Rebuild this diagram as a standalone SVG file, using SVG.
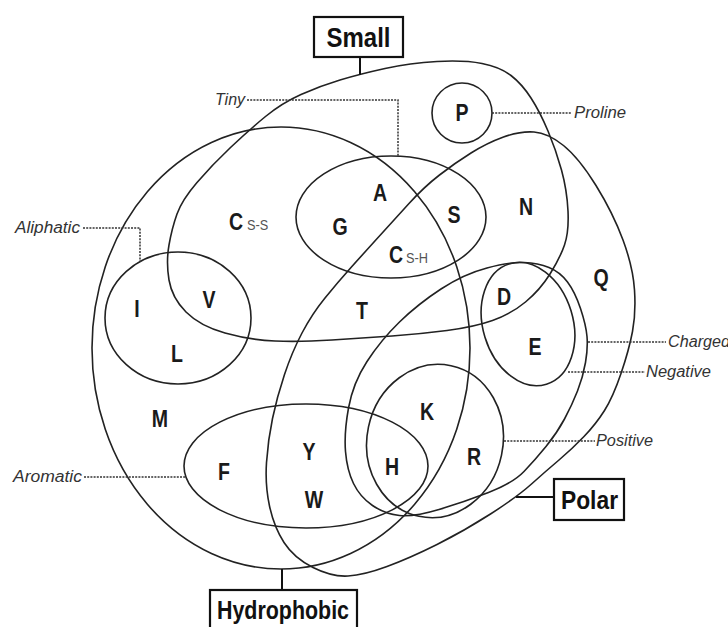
<svg xmlns="http://www.w3.org/2000/svg" width="728" height="627" viewBox="0 0 728 627">
<style>
.set{fill:none;stroke:#222;stroke-width:1.6}
.box{fill:#fff;stroke:#111;stroke-width:2.2}
.btxt{font-family:"Liberation Sans",Arial,sans-serif;font-weight:bold;fill:#111;text-anchor:middle}
.lbl{font-family:"Liberation Sans",Arial,sans-serif;font-style:italic;font-size:16px;fill:#333}
.dot{fill:none;stroke:#333;stroke-width:1.5;stroke-dasharray:2 1.2}
.solid{fill:none;stroke:#111;stroke-width:2}
.aa{font-family:"Liberation Sans",Arial,sans-serif;font-weight:bold;font-size:23px;fill:#1a1a1a;text-anchor:middle}
.sub{font-family:"Liberation Sans",Arial,sans-serif;font-size:15px;fill:#555}
</style>
<rect width="728" height="627" fill="#fff"/>

<g id="hydrophobic">
<ellipse class="set" cx="281" cy="348" rx="189" ry="221"/>
<rect class="box" x="210" y="590" width="147" height="42"/>
<text class="btxt" x="283" y="619" font-size="25" textLength="132" lengthAdjust="spacingAndGlyphs">Hydrophobic</text>
</g>

<g id="small">
<path class="set" d="M 482,63.5 Q 500,67 511,75.5 Q 522,84 531,98 Q 540,112 548,131 Q 556,150 561.5,170 Q 567,190 568,211 Q 569,232 564.5,245 Q 560,258 550,274 Q 540,290 525.5,302 Q 511,314 492.5,320.5 Q 474,327 447,330.5 Q 420,334 392,336 Q 364,338 332,340 Q 300,342 275,341 Q 250,340 225,333 Q 200,326 186,312 Q 172,298 169,280 Q 166,262 169,245 Q 172,228 177,214 Q 182,200 197,182.5 Q 212,165 230.5,147.5 Q 249,130 265.5,116.5 Q 282,103 301,94.5 Q 320,86 340,80 Q 360,74 385,68.5 Q 410,63 437,61.5 Q 464,60 482,63.5 Z"/>
<rect class="box" x="314" y="17" width="89" height="40"/>
<text class="btxt" x="358.5" y="47" font-size="28" textLength="64" lengthAdjust="spacingAndGlyphs">Small</text>
</g>

<g id="polar">
<path class="set" d="M 563.5,145.5 Q 579,158 596,185.5 Q 613,213 623,240 Q 633,267 634.5,290 Q 636,313 632.5,331.5 Q 629,350 621,373.5 Q 613,397 604.5,410.5 Q 596,424 584,436.5 Q 572,449 559,460 Q 546,471 531.5,484 Q 517,497 490.5,514 Q 464,531 437,544.5 Q 410,558 387,566.5 Q 364,575 348,576 Q 332,577 313,567.5 Q 294,558 284,542.5 Q 274,527 269.5,506 Q 265,485 266.5,462.5 Q 268,440 272.5,418.5 Q 277,397 284.5,374.5 Q 292,352 302,333 Q 312,314 325,298 Q 338,282 351,267.5 Q 364,253 379,236.5 Q 394,220 409,203.5 Q 424,187 439.5,175 Q 455,163 471,153 Q 487,143 503.5,137 Q 520,131 534,132 Q 548,133 563.5,145.5 Z"/>
<rect class="box" x="554" y="479" width="70" height="41"/>
<text class="btxt" x="589.5" y="509" font-size="26" textLength="57" lengthAdjust="spacingAndGlyphs">Polar</text>
</g>

<g id="tiny">
<ellipse class="set" cx="391" cy="217" rx="95" ry="61"/>
<text class="lbl" x="215" y="105" textLength="30" lengthAdjust="spacingAndGlyphs">Tiny</text>
</g>

<g id="proline">
<circle class="set" cx="462" cy="113" r="30"/>
<text class="lbl" x="574" y="118" textLength="52" lengthAdjust="spacingAndGlyphs">Proline</text>
</g>

<g id="aliphatic">
<ellipse class="set" cx="178" cy="318" rx="73" ry="66"/>
<text class="lbl" x="15" y="233" textLength="65" lengthAdjust="spacingAndGlyphs">Aliphatic</text>
</g>

<g id="aromatic">
<ellipse class="set" cx="306" cy="466" rx="122" ry="62"/>
<text class="lbl" x="13" y="482" textLength="69" lengthAdjust="spacingAndGlyphs">Aromatic</text>
</g>

<g id="charged">
<path class="set" d="M 524,262.5 Q 538,263 549,267.5 Q 560,272 567.5,282 Q 575,292 580.5,308.5 Q 586,325 587,336.5 Q 588,348 585.5,362.5 Q 583,377 577.5,391 Q 572,405 564.5,419 Q 557,433 546,446.5 Q 535,460 524,471.5 Q 513,483 488.5,492.5 Q 464,502 439,509.5 Q 414,517 399.5,515.5 Q 385,514 372.5,505.5 Q 360,497 353.5,483.5 Q 347,470 345.5,451.5 Q 344,433 348.5,408 Q 353,383 367,361.5 Q 381,340 399.5,322 Q 418,304 441,289 Q 464,274 487,268 Q 510,262 524,262.5 Z"/>
<text class="lbl" x="668" y="347" textLength="62" lengthAdjust="spacingAndGlyphs">Charged</text>
</g>

<g id="negative">
<ellipse class="set" cx="528" cy="324" rx="45" ry="63" transform="rotate(-17 528 324)"/>
<text class="lbl" x="646" y="377" textLength="65" lengthAdjust="spacingAndGlyphs">Negative</text>
</g>

<g id="positive">
<ellipse class="set" cx="435" cy="441" rx="68" ry="77" transform="rotate(12 435 441)"/>
<text class="lbl" x="596" y="446" textLength="57" lengthAdjust="spacingAndGlyphs">Positive</text>
</g>

<g id="connectors">
<line class="solid" x1="360" y1="57" x2="360" y2="75"/>
<line class="solid" x1="282" y1="569" x2="282" y2="590"/>
<line class="solid" x1="516" y1="497" x2="554" y2="497"/>
<polyline class="dot" points="247,100 398,100 398,157"/>
<polyline class="dot" points="83,228 140,228 140,262"/>
<line class="dot" x1="492" y1="113" x2="572" y2="113"/>
<line class="dot" x1="588" y1="342" x2="666" y2="342"/>
<line class="dot" x1="568" y1="372" x2="645" y2="372"/>
<line class="dot" x1="504" y1="441" x2="595" y2="441"/>
<line class="dot" x1="84" y1="477" x2="186" y2="477"/>
</g>

<g id="amino-acids">
<text class="aa" transform="translate(462 121) scale(0.85 1)">P</text>
<text class="aa" transform="translate(380 201) scale(0.85 1)">A</text>
<text class="aa" transform="translate(340 235) scale(0.85 1)">G</text>
<text class="aa" transform="translate(454 223) scale(0.85 1)">S</text>
<text class="aa" transform="translate(526 215) scale(0.85 1)">N</text>
<text class="aa" transform="translate(236 230) scale(0.85 1)">C</text>
<text class="sub" transform="translate(247 230) scale(0.85 1)">S-S</text>
<text class="aa" transform="translate(396 263) scale(0.85 1)">C</text>
<text class="sub" transform="translate(406 263) scale(0.85 1)">S-H</text>
<text class="aa" transform="translate(504 305) scale(0.85 1)">D</text>
<text class="aa" transform="translate(535 355) scale(0.85 1)">E</text>
<text class="aa" transform="translate(601 286) scale(0.85 1)">Q</text>
<text class="aa" transform="translate(362 319) scale(0.85 1)">T</text>
<text class="aa" transform="translate(137 317) scale(0.85 1)">I</text>
<text class="aa" transform="translate(209 308) scale(0.85 1)">V</text>
<text class="aa" transform="translate(177 362) scale(0.85 1)">L</text>
<text class="aa" transform="translate(160 427) scale(0.85 1)">M</text>
<text class="aa" transform="translate(224 480) scale(0.85 1)">F</text>
<text class="aa" transform="translate(309 460) scale(0.85 1)">Y</text>
<text class="aa" transform="translate(314 508) scale(0.85 1)">W</text>
<text class="aa" transform="translate(392 475) scale(0.85 1)">H</text>
<text class="aa" transform="translate(427 420) scale(0.85 1)">K</text>
<text class="aa" transform="translate(474 465) scale(0.85 1)">R</text>
</g>
</svg>
